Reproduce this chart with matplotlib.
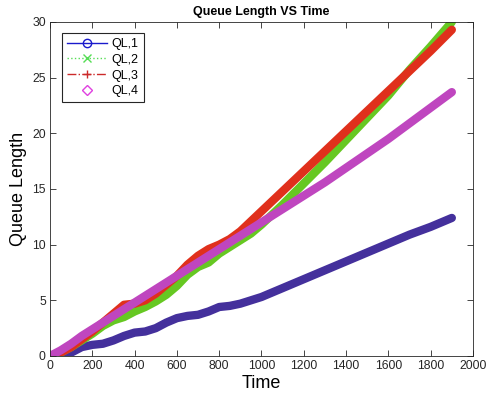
"""
Queue length vs time for four queues (MATLAB-style figure).
Saves out.png.
"""

import matplotlib.pyplot as plt
from matplotlib.lines import Line2D


TIME = [0, 50, 100, 150, 200, 250, 300, 350, 400, 450, 500, 550, 600, 650,
        700, 750, 800, 850, 900, 950, 1000, 1100, 1200, 1300, 1400, 1500,
        1600, 1700, 1800, 1900]

QL1 = [0.0, 0.0, 0.3, 0.8, 1.0, 1.1, 1.4, 1.8, 2.1, 2.2, 2.5, 3.0, 3.4, 3.6,
       3.7, 4.0, 4.4, 4.5, 4.7, 5.0, 5.3, 6.1, 6.9, 7.7, 8.5, 9.3,
       10.1, 10.9, 11.6, 12.4]
QL2 = [0.0, 0.3, 0.8, 1.4, 2.0, 2.7, 3.2, 3.5, 4.0, 4.4, 4.9, 5.5, 6.3, 7.3,
       8.0, 8.4, 9.2, 9.8, 10.4, 11.0, 11.8, 13.6, 15.5, 17.4, 19.4, 21.4,
       23.4, 25.7, 27.8, 30.0]
QL3 = [0.0, 0.3, 0.8, 1.5, 2.2, 3.0, 3.8, 4.6, 4.7, 5.0, 5.6, 6.4, 7.2, 8.2,
       9.0, 9.6, 10.0, 10.5, 11.2, 12.1, 13.0, 14.8, 16.6, 18.4, 20.2, 22.0,
       23.8, 25.6, 27.4, 29.3]
QL4 = [0.0, 0.5, 1.1, 1.8, 2.4, 3.0, 3.6, 4.2, 4.8, 5.4, 6.0, 6.6, 7.2, 7.8,
       8.4, 9.0, 9.6, 10.2, 10.8, 11.4, 12.0, 13.2, 14.4, 15.6, 16.9, 18.2,
       19.5, 20.9, 22.3, 23.7]

LABELS = ["QL,1", "QL,2", "QL,3", "QL,4"]

# colour of the dense marker band, and of the legend sample
BAND_COLORS = ["#44309c", "#66c822", "#e0301c", "#bf46bf"]
KEY_COLORS = ["#1a1acc", "#55dd55", "#cc2a2a", "#e040e0"]
KEY_STYLES = [("-", "o"), (":", "x"), ("-.", "+"), ("none", "D")]


def main() -> None:
    plt.rcParams["font.family"] = ["Liberation Sans", "DejaVu Sans"]

    fig = plt.figure(figsize=(4.87, 4.05), dpi=100)
    ax = fig.add_axes([0.1027, 0.121, 0.8685, 0.8247])

    for values, color in zip([QL1, QL2, QL3, QL4], BAND_COLORS):
        ax.plot(TIME, values, color=color, linewidth=6,
                solid_capstyle="round", solid_joinstyle="round")

    handles = []
    for color, (ls, mk), label in zip(KEY_COLORS, KEY_STYLES, LABELS):
        handles.append(Line2D([], [], color=color, linestyle=ls, marker=mk,
                              markerfacecolor="none", markeredgecolor=color,
                              markersize=6 if mk != "D" else 5,
                              linewidth=1.0, label=label))

    leg = ax.legend(handles=handles, loc="upper left",
                    bbox_to_anchor=(0.028, 0.967), borderaxespad=0,
                    fontsize=9, fancybox=False, framealpha=1,
                    edgecolor="#262626", handlelength=3.2,
                    labelspacing=0.3, borderpad=0.4, handletextpad=0.4)
    leg.get_frame().set_linewidth(0.8)

    ax.set_xlim(0, 2000)
    ax.set_ylim(0, 30)
    ax.set_xticks(range(0, 2001, 200))
    ax.set_yticks(range(0, 31, 5))
    ax.tick_params(direction="in", top=True, right=True, length=4,
                   width=0.6, labelsize=8.8, colors="#262626", pad=3)
    for spine in ax.spines.values():
        spine.set_color("#262626")
        spine.set_linewidth(0.6)

    ax.set_xlabel("Time", fontsize=13, labelpad=2)
    ax.set_ylabel("Queue Length", fontsize=13, labelpad=4)
    ax.set_title("Queue Length VS Time", fontsize=9, fontweight="bold",
                 pad=5)

    fig.savefig("out.png", dpi=100)
    plt.close(fig)


if __name__ == "__main__":
    main()
